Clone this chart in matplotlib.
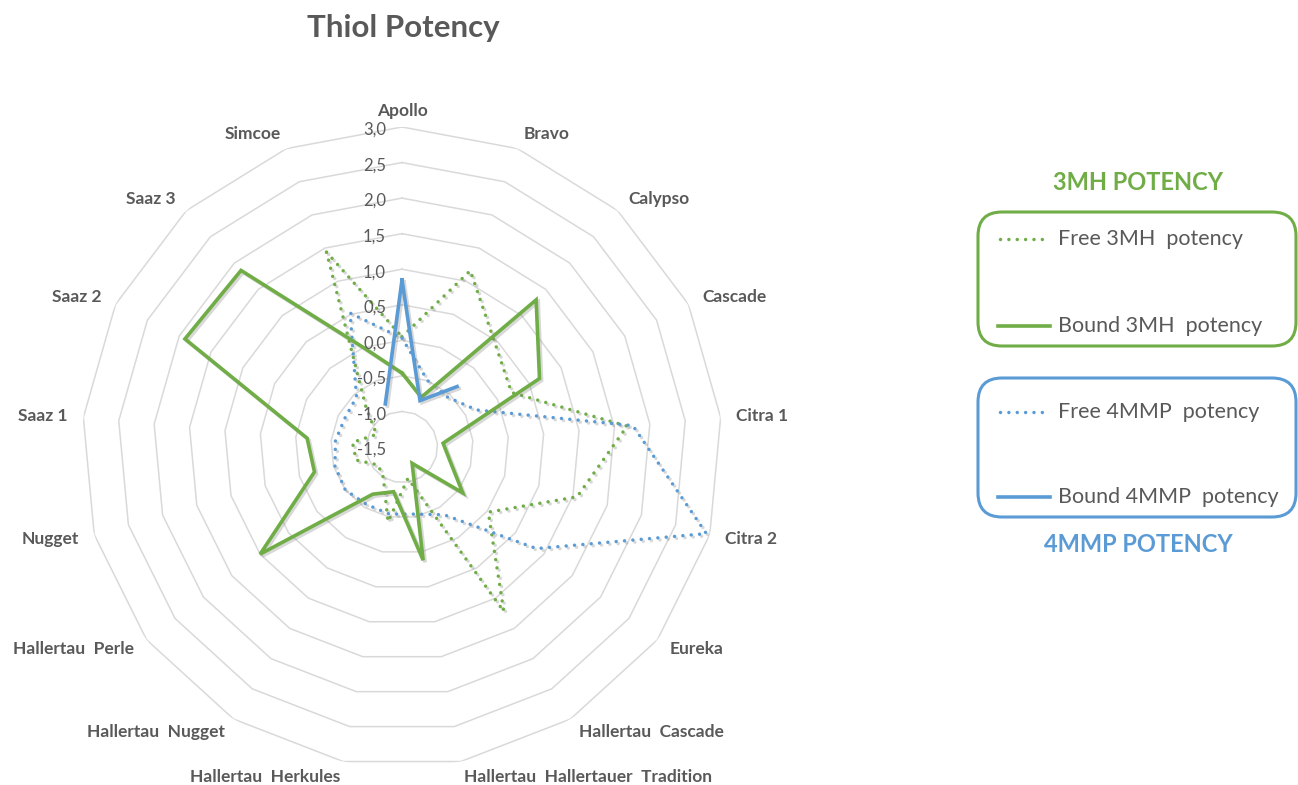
import numpy as np
import matplotlib
matplotlib.use("Agg")
import matplotlib.pyplot as plt
import matplotlib.patheffects as pe
from matplotlib.patches import FancyBboxPatch

plt.rcParams['font.family'] = ['Lato', 'DejaVu Sans']

# categories, clockwise from the top
categories = ['Apollo', 'Bravo', 'Calypso', 'Cascade', 'Citra 1', 'Citra 2', 'Eureka',
              'Hallertau  Cascade', 'Hallertau  Hallertauer  Tradition', 'Hallertau  Herkules',
              'Hallertau  Nugget', 'Hallertau  Perle', 'Nugget', 'Saaz 1', 'Saaz 2', 'Saaz 3', 'Simcoe']

free_3mh = [0.05, 1.16, 0.45, 0.22, 1.68, 1.06, 0.02, 1.22, -1.05, -0.43,
            -1.0, -1.08, -0.83, -0.80, -1.10, -0.75, 1.44]
bound_3mh = [-0.46, -0.75, 1.30, 0.66, -0.92, -0.80, -0.43, -1.23, 0.12, -0.86,
             -0.72, 1.00, -0.22, -0.16, 1.91, 1.86, 0.00]
free_4mmp = [0.03, -0.50, -0.55, -0.33, 1.76, 2.95, 0.87, -0.38, -0.54, -0.54,
             -0.55, -0.50, -0.52, -0.56, -0.60, -0.55, 0.52]
bound_4mmp = [0.85, -0.80, -0.35, np.nan, np.nan, np.nan, np.nan, np.nan, np.nan, np.nan,
              np.nan, np.nan, np.nan, np.nan, np.nan, np.nan, -0.85]

ticks = [-1.5, -1.0, -0.5, 0.0, 0.5, 1.0, 1.5, 2.0, 2.5, 3.0]

green = '#70AD47'
blue = '#5B9BD5'
grey_txt = '#595959'
grid_col = '#D9D9D9'

n = len(categories)
angles = np.linspace(0, 2 * np.pi, n, endpoint=False)
ang_c = np.append(angles, angles[0])


def closed(vals):
    return list(vals) + [vals[0]]


fig = plt.figure(figsize=(12.98, 7.85), dpi=100)
ax = fig.add_axes([82 / 1298, 18 / 785, 640 / 1298, 640 / 785], projection='polar')
ax.set_theta_zero_location('N')
ax.set_theta_direction(-1)
ax.set_ylim(ticks[0], ticks[-1])
ax.grid(False)
ax.spines['polar'].set_visible(False)
ax.set_xticks([])
ax.set_yticks([])
ax.patch.set_alpha(0)

# polygon rings
for t in ticks[1:]:
    ax.plot(ang_c, [t] * (n + 1), color=grid_col, lw=1.1, zorder=1)

shadow = [pe.SimpleLineShadow(offset=(1.5, -1.5), shadow_color='#7f7f7f', alpha=0.3), pe.Normal()]
dots = (0, (0.01, 2.4))

ax.plot(ang_c, closed(free_3mh), color=green, lw=2.5, linestyle=dots,
        dash_capstyle='round', path_effects=shadow, zorder=3)
ax.plot(ang_c, closed(bound_3mh), color=green, lw=2.6, solid_joinstyle='miter',
        path_effects=shadow, zorder=4)
ax.plot(ang_c, closed(free_4mmp), color=blue, lw=2.5, linestyle=dots,
        dash_capstyle='round', path_effects=shadow, zorder=3)
ax.plot(ang_c, closed(bound_4mmp), color=blue, lw=2.6, solid_joinstyle='miter',
        path_effects=shadow, zorder=5)

# category labels
for th, name in zip(angles, categories):
    s = np.sin(th)
    ha = 'center' if abs(s) < 0.05 else ('left' if s > 0 else 'right')
    ax.text(th, 3.22, name, ha=ha, va='center', fontsize=12.5, fontweight='bold',
            color=grey_txt, zorder=6)

# radial tick labels along the first axis
for t in ticks:
    lbl = f"{t:.1f}".replace('.', ',')
    ax.annotate(lbl, xy=(0, t), xytext=(-16, -3), textcoords='offset pixels',
                ha='right', va='center', fontsize=12, color=grey_txt, zorder=6)

fig.text(403 / 1298, 1 - 28 / 785, 'Thiol Potency', ha='center', va='center',
         fontsize=22.5, fontweight='bold', color=grey_txt)

# custom legend boxes on the right
lax = fig.add_axes([0, 0, 1, 1])
lax.set_xlim(0, 1298)
lax.set_ylim(785, 0)
lax.axis('off')
lax.patch.set_alpha(0)

lax.add_patch(FancyBboxPatch((978, 212), 318, 134, boxstyle='round,pad=0,rounding_size=24',
                             fc='none', ec=green, lw=2.2))
lax.add_patch(FancyBboxPatch((978, 378), 318, 139, boxstyle='round,pad=0,rounding_size=24',
                             fc='none', ec=blue, lw=2.2))

lax.text(1138, 183, '3MH POTENCY', ha='center', va='center', fontsize=17,
         fontweight='bold', color=green)
lax.text(1138, 544, '4MMP POTENCY', ha='center', va='center', fontsize=17,
         fontweight='bold', color=blue)

entries = [(239, green, dots, 'Free 3MH  potency'),
           (326, green, '-', 'Bound 3MH  potency'),
           (412, blue, dots, 'Free 4MMP  potency'),
           (497, blue, '-', 'Bound 4MMP  potency')]
for y, c, ls, txt in entries:
    if ls == '-':
        lax.plot([998, 1050], [y, y], color=c, lw=2.6)
    else:
        lax.plot([1000, 1050], [y, y], color=c, lw=2.5, linestyle=ls, dash_capstyle='round')
    lax.text(1058, y, txt, ha='left', va='center', fontsize=15.5, color=grey_txt)

fig.savefig('out.png', dpi=100)
